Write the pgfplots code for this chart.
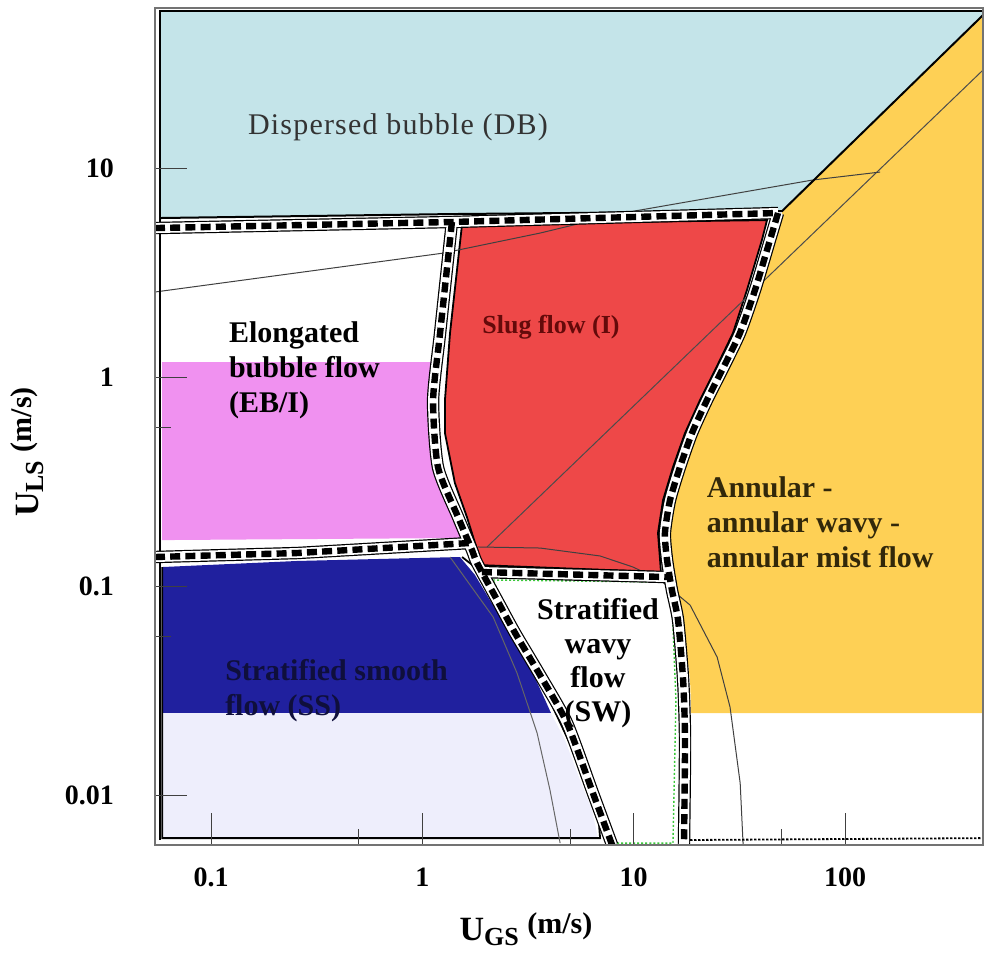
\documentclass[border=0pt]{standalone}
\usepackage{fontspec}
\setmainfont{Liberation Serif}
\newfontfamily\spaced[LetterSpace=4]{Liberation Serif}
\usepackage{pgfplots}
\usepackage{pgfplotstable}
\pgfplotsset{compat=1.18}

\definecolor{dbblue}{RGB}{196,228,233}
\definecolor{slugred}{RGB}{238,72,72}
\definecolor{ebpink}{RGB}{240,145,240}
\definecolor{ssnavy}{RGB}{32,32,158}
\definecolor{ssdot}{RGB}{238,238,252}
\definecolor{anyellow}{RGB}{254,208,85}
\definecolor{swgreen}{RGB}{60,200,60}

% boundaries (x = log10 UGS, y = log10 ULS)
\pgfplotstableread{
x y
-1.265 0.713
0.140 0.742
1.683 0.785
}\pathA
\pgfplotstableread{
x y
0.140 0.742
0.084 0.211
0.051 -0.110
0.074 -0.431
0.169 -0.670
0.235 -0.828
0.259 -0.890
0.354 -1.067
0.439 -1.225
0.557 -1.426
0.685 -1.656
0.807 -1.990
0.898 -2.239
}\pathB
\pgfplotstableread{
x y
-1.265 -0.861
-0.593 -0.842
0.225 -0.794
}\pathC
\pgfplotstableread{
x y
0.282 -0.933
1.163 -0.957
}\pathD
\pgfplotstableread{
x y
1.683 0.785
1.645 0.656
1.574 0.416
1.503 0.211
1.418 0.033
1.347 -0.110
1.276 -0.268
1.219 -0.431
1.172 -0.589
1.148 -0.746
1.158 -0.876
1.181 -1.019
1.210 -1.163
1.234 -1.450
1.243 -1.737
1.238 -2.239
}\pathE

\tikzset{
  bandA/.style={black, line width=6.2pt, line join=round},
  bandB/.style={white, line width=5pt, line join=round},
  bandC/.style={black, line width=3.2pt, dash pattern=on 5pt off 2.6pt},
}

\begin{document}
\begin{tikzpicture}
\begin{axis}[
  scale only axis, width=414pt, height=418.5pt,
  xmin=-1.265, xmax=2.653, ymin=-2.239, ymax=1.766,
  axis on top, no markers,
  axis line style={draw=black!55, line width=0.8pt},
  xtick={-1,0,1,2}, xticklabels={0.1,1,10,100},
  ytick={-2,-1,0,1}, yticklabels={0.01,0.1,1,10},
  minor xtick={-0.301,0.699,1.699}, minor ytick={-0.24,-1.24},
  xtick pos=bottom, ytick pos=left, tick align=inside,
  major tick length=16pt, minor tick length=8pt,
  every tick/.style={black!75, line width=0.5pt},
  ticklabel style={font=\bfseries\fontsize{14}{16}\selectfont},
  xticklabel style={yshift=-8pt},
  yticklabel style={xshift=-17pt},
  xlabel={\bfseries\fontsize{17}{20}\selectfont U\raisebox{-0.3ex}{\fontsize{13}{15}\selectfont GS}\hspace{0.25em}\raisebox{0.5ex}{\fontsize{15}{17}\selectfont (m/s)}},
  ylabel={\bfseries\fontsize{17}{20}\selectfont U\raisebox{-0.3ex}{\fontsize{13}{15}\selectfont LS}\hspace{0.25em}\raisebox{0.5ex}{\fontsize{15}{17}\selectfont (m/s)}},
  xlabel style={at={(rel axis cs:0.448,-0.1005)}, anchor=center},
  ylabel style={at={(rel axis cs:-0.1546,0.4695)}, anchor=center},
]
% ---- region fills ----
% Dispersed bubble
\addplot[fill=dbblue, draw=none] coordinates {(-1.241,1.746) (2.653,1.746) (2.653,1.732) (1.702,0.794) (0.140,0.780) (-1.241,0.761)} -- cycle;
% Elongated bubble (pink part)
\addplot[fill=ebpink, draw=none] coordinates {(-1.231,0.072) (0.040,0.072) (0.040,-0.110) (0.050,-0.268) (0.080,-0.431) (0.140,-0.670) (0.185,-0.770) (-1.231,-0.780)} -- cycle;
% Slug
\addplot[fill=slugred, draw=black, line width=0.9pt] coordinates {(0.188,0.732) (1.631,0.751) (1.607,0.656) (1.536,0.416) (1.470,0.211) (1.385,0.033) (1.314,-0.110) (1.243,-0.268) (1.186,-0.431) (1.139,-0.589) (1.115,-0.746) (1.125,-0.876) (1.129,-0.933) (0.282,-0.900) (0.211,-0.670) (0.154,-0.507) (0.107,-0.268) (0.107,-0.110) (0.131,0.211)} -- cycle;
% Annular
\addplot[fill=anyellow, draw=none] coordinates {(1.702,0.794) (2.653,1.732) (2.653,-1.608) (1.272,-1.608) (1.267,-1.450) (1.233,-1.163) (1.205,-1.019) (1.181,-0.876) (1.172,-0.746) (1.196,-0.589) (1.243,-0.431) (1.300,-0.268) (1.371,-0.110) (1.442,0.033) (1.527,0.211) (1.598,0.416) (1.669,0.656) (1.702,0.775)} -- cycle;
% Stratified smooth (navy part)
\addplot[fill=ssnavy, draw=none] coordinates {(-1.231,-0.909) (-0.593,-0.880) (0.178,-0.861) (0.249,-0.947) (0.320,-1.067) (0.415,-1.225) (0.510,-1.388) (0.581,-1.545) (0.609,-1.608) (-1.231,-1.608)} -- cycle;
% Stratified smooth (dotted part)
\addplot[fill=ssdot, draw=none] coordinates {(-1.231,-1.608) (0.609,-1.608) (0.675,-1.737) (0.746,-1.928) (0.803,-2.072) (0.831,-2.206) (-1.231,-2.206)} -- cycle;
% SS outline
\addplot[black, line width=0.9pt] coordinates {(-1.231,-0.909) (-1.231,-2.206) (0.841,-2.206) (0.831,-2.072) (0.794,-1.952) (0.713,-1.785) (0.580,-1.498) (0.462,-1.258) (0.344,-1.053) (0.249,-0.909) (0.188,-0.861)};
% Stratified wavy outline (green dotted)
\addplot[swgreen, line width=0.7pt, dash pattern=on 1pt off 1pt] coordinates {(0.335,-0.971) (1.148,-0.981) (1.181,-1.067) (1.200,-1.545) (1.186,-2.230) (0.907,-2.230) (0.841,-2.024) (0.722,-1.737) (0.595,-1.498) (0.462,-1.258) (0.335,-0.971)};
% ---- thin transition lines ----
\addplot[black!70, line width=0.5pt] coordinates {(0.306,-0.813) (2.653,1.469)};
\addplot[black!75, line width=0.5pt] coordinates {(-1.265,0.407) (0.098,0.593) (0.557,0.689) (0.950,0.785) (1.848,0.943) (2.166,0.981)};
\addplot[black!75, line width=0.5pt] coordinates {(0.264,-0.813) (0.557,-0.818) (0.841,-0.856) (0.997,-0.909) (1.125,-0.971) (1.267,-1.091) (1.395,-1.340) (1.456,-1.579) (1.504,-1.943) (1.518,-2.239)};
\addplot[black!60, line width=0.5pt] coordinates {(0.131,-0.861) (0.335,-1.148) (0.448,-1.416) (0.543,-1.703) (0.604,-1.976) (0.652,-2.230)};
\addplot[black, line width=0.9pt, dash pattern=on 1.2pt off 0.8pt] coordinates {(1.267,-2.215) (2.653,-2.206)};
% inner frame and DB boundary
\addplot[black, line width=0.9pt] coordinates {(2.653,1.751) (-1.241,1.751) (-1.241,-2.215)};
\addplot[black, line width=1pt] coordinates {(-1.241,0.761) (0.140,0.780) (1.702,0.794) (2.653,1.732)};
% ---- dashed boundaries ----
\addplot[bandA] table {\pathA};
\addplot[bandA] table {\pathC};
\addplot[bandA] table {\pathD};
\addplot[bandA, smooth, tension=0.4] table {\pathB};
\addplot[bandA, smooth, tension=0.4] table {\pathE};
\addplot[bandB] table {\pathA};
\addplot[bandB] table {\pathC};
\addplot[bandB] table {\pathD};
\addplot[bandB, smooth, tension=0.4] table {\pathB};
\addplot[bandB, smooth, tension=0.4] table {\pathE};
\addplot[bandC] table {\pathA};
\addplot[bandC] table {\pathC};
\addplot[bandC] table {\pathD};
\addplot[bandC, smooth, tension=0.4] table {\pathB};
\addplot[bandC, smooth, tension=0.4] table {\pathE};
% ---- region labels ----
\node[text=black!80] at (axis cs:-0.115,1.196) {\spaced\fontsize{15}{17}\selectfont Dispersed bubble (DB)};
\node[anchor=west, align=left, font=\bfseries\fontsize{15}{17.5}\selectfont] at (axis cs:-0.948,0.033) {Elongated\\bubble flow\\(EB/I)};
\node[text={rgb,255:red,100;green,10;blue,10}, font=\bfseries\fontsize{13}{15}\selectfont] at (axis cs:0.609,0.239) {Slug flow (I)};
\node[align=center, font=\bfseries\fontsize{15}{17}\selectfont] at (axis cs:0.831,-1.371) {Stratified\\wavy\\flow\\(SW)};
\node[anchor=west, align=left, text={rgb,255:red,15;green,15;blue,60}, font=\bfseries\fontsize{15}{17.5}\selectfont] at (axis cs:-0.966,-1.498) {Stratified smooth\\flow (SS)};
\node[anchor=west, align=left, text={rgb,255:red,50;green,40;blue,10}, font=\bfseries\fontsize{15}{17.5}\selectfont] at (axis cs:1.313,-0.694) {Annular -\\annular wavy -\\annular mist flow};
\end{axis}
\pgfresetboundingbox
\path[use as bounding box] (-77.5pt,-54.5pt) rectangle (414.5pt,422.5pt);
\end{tikzpicture}
\end{document}
